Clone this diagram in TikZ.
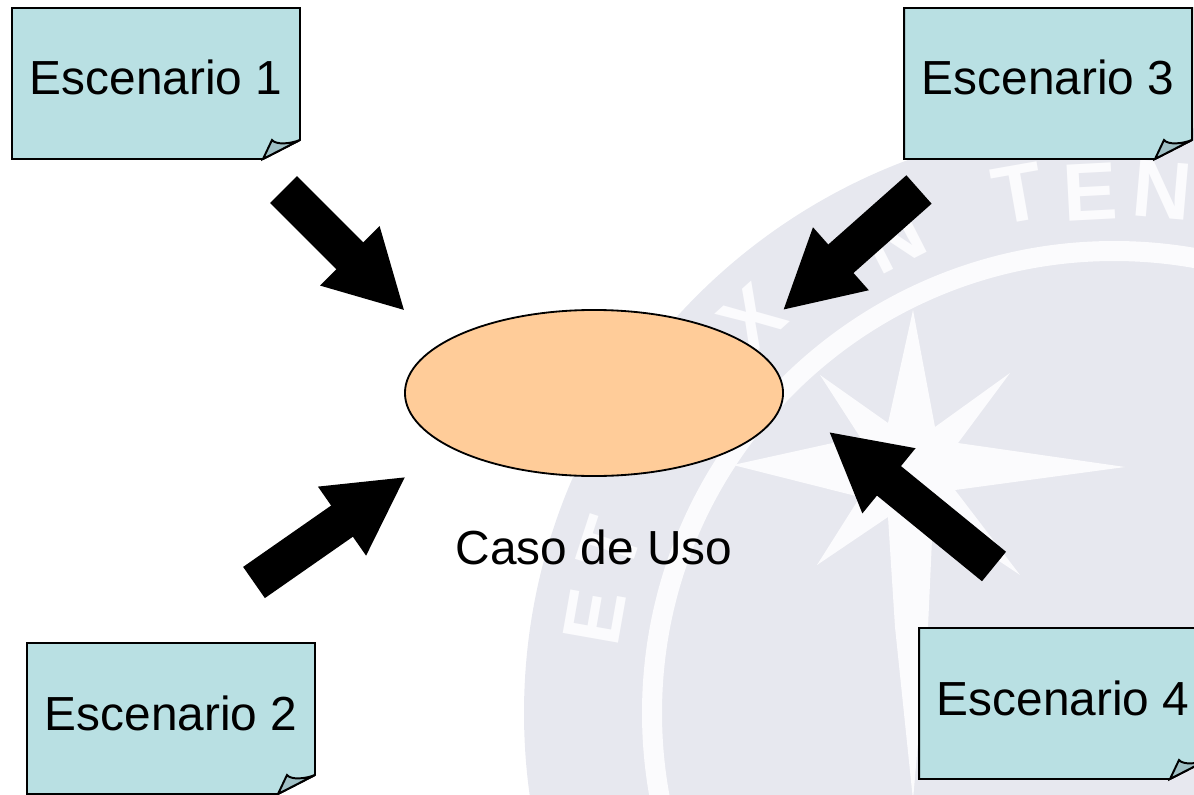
\documentclass[tikz,border=0pt]{standalone}
\usepackage{fontspec}
\setmainfont{Liberation Sans}
\usetikzlibrary{arrows.meta,shapes.geometric}
\definecolor{notefill}{HTML}{B9E0E3}
\definecolor{flapfill}{HTML}{9FC0C5}
\definecolor{usefill}{HTML}{FFCC99}
\definecolor{sealgray}{HTML}{E7E8EF}
\definecolor{sealwhite}{HTML}{FBFBFD}
\tikzset{
  noteline/.style={draw=black,line width=1.4pt,line join=miter},
  notetext/.style={anchor=base,inner sep=0pt,font=\fontsize{34}{40}\selectfont},
  bigarrow/.style={line width=0.95cm,-{Triangle[length=1.95cm,width=1.95cm]}},
  sealletter/.style={sealwhite,inner sep=0pt,font=\fontsize{58}{58}\selectfont\bfseries}
}
\newcommand\Escenario[3]{
  \def\X{#2} \def\Y{#3}
  \begin{scope}[shift={(\X,\Y)}]
    \draw[noteline,fill=notefill] (0,0) -- (288,0) -- (288,132) -- (251,151) -- (0,151) -- cycle;
    \draw[noteline,fill=flapfill] (251,151) -- (260,132) .. controls (264,137) and (278,136) .. (288,132) -- cycle;
    \node[notetext] (esc#1) at (144,87) {Escenario #1};
  \end{scope}
}

\begin{document}
\begin{tikzpicture}[x=0.025cm, y=-0.025cm]
\useasboundingbox (0,0) rectangle (1194,794);
\clip (0,0) rectangle (1194,794);

% seal behind the drawing
\fill[sealgray] (1114,713) circle [radius=590];
\draw[sealwhite,line width=0.5cm] (1114,713) circle [radius=462];
\fill[sealwhite] (913,310) -- (935,427) -- (1010,373) -- (958,443) -- (1125,467)
  -- (955,490) -- (1020,575) -- (933,517) -- (928,627) -- (913,800) -- (895,627)
  -- (888,517) -- (817,565) -- (860,497) -- (733,465) -- (860,437) -- (820,375)
  -- (888,423) -- cycle;
\foreach \ch/\px/\py/\rot/\nm in {E/595/617/80/a, T/610/545/72/b, X/752/318/42/c,
  N/893/238/27/e, T/1018/194/10/f, E/1090/192/3/g, N/1162/190/-5/h}
{
  \node[sealletter,rotate=\rot] (seal\nm) at (\px,\py) {\ch};
}

\Escenario{1}{12}{8}
\Escenario{2}{27}{643}
\Escenario{3}{904}{8}
\Escenario{4}{919}{628}

\node[ellipse,draw=black,line width=1.3pt,fill=usefill,minimum width=9.45cm,minimum height=4.15cm,inner sep=0pt] (caso) at (594,393) {};
\node[notetext] (casolabel) at (594,564) {Caso de Uso};

\coordinate (tail1) at (283.5,189.5);
\coordinate (tip1) at (405,311);
\coordinate (tail2) at (254,582.5);
\coordinate (tip2) at (406,476.5);
\coordinate (tail3) at (919,189.5);
\coordinate (tip3) at (782.5,310.5);
\coordinate (tail4) at (994,566.5);
\coordinate (tip4) at (828.5,431.5);

\draw[bigarrow] (tail1) -- (tip1);
\draw[bigarrow] (tail2) -- (tip2);
\draw[bigarrow] (tail3) -- (tip3);
\draw[bigarrow] (tail4) -- (tip4);
\end{tikzpicture}
\end{document}
